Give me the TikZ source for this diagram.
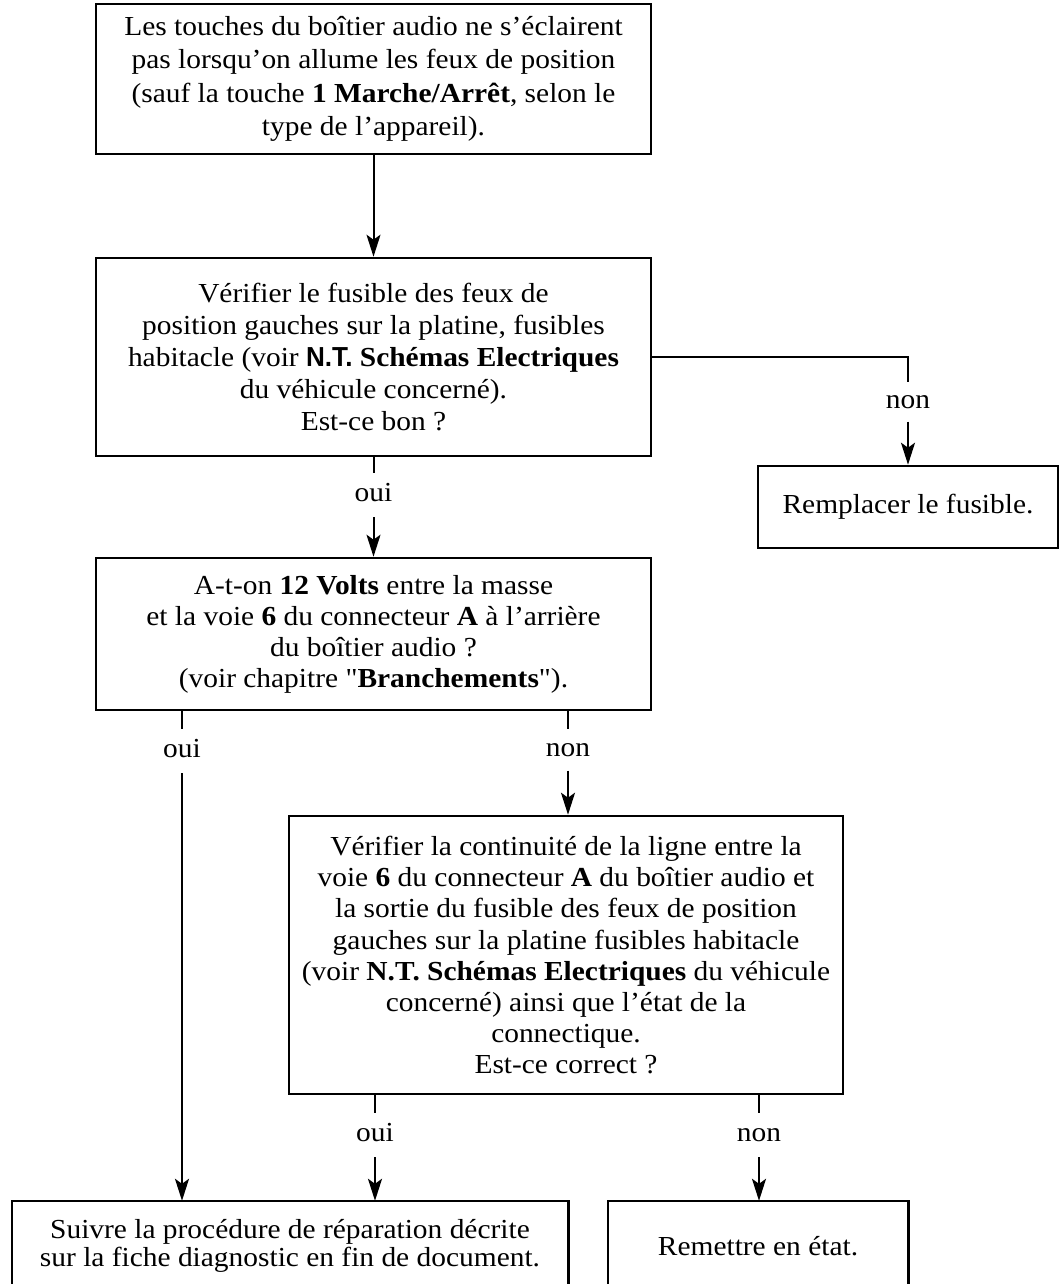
\documentclass[tikz,border=0pt]{standalone}
\usepackage{fontspec}
\setmainfont{Liberation Serif}
\setsansfont{Liberation Sans}
\newfontfamily\txtfont{Liberation Serif}[FakeStretch=1.07]
\newfontfamily\ntfont{Liberation Sans}[FakeStretch=0.95]
\usetikzlibrary{arrows.meta}
\begin{document}
\begin{tikzpicture}[x=1pt,y=-1pt,
  every node/.style={font=\txtfont\fontsize{27.5}{32}\selectfont},
  box/.style={draw,line width=2.6pt,align=center,inner sep=0pt},
  openbox/.style={align=center,inner sep=0pt},
  lbl/.style={inner sep=0pt,minimum height=44pt,text height=12pt,text depth=0pt},
  conn/.style={line width=2pt},
  arr/.style={line width=2pt,-{Stealth[length=22pt,width=14pt,inset=5pt]}}]
\useasboundingbox (0,0) rectangle (1063,1284);
\fill[white] (0,0) rectangle (1063,1284);

\node[box,minimum width=555pt,minimum height=150pt,font=\txtfont\fontsize{27.5}{33.5}\selectfont] (b1) at (373.5,79)
 {Les touches du boîtier audio ne s’éclairent\\
  pas lorsqu’on allume les feux de position\\
  (sauf la touche \textbf{1 Marche/Arrêt}, selon le\\
  type de l’appareil).};

\node[box,minimum width=555pt,minimum height=198pt] (b2) at (373.5,357)
 {Vérifier le fusible des feux de\\
  position gauches sur la platine, fusibles\\
  habitacle (voir {\ntfont\bfseries N.T.} \textbf{Schémas Electriques}\\
  du véhicule concerné).\\
  Est-ce bon ?};

\node[box,minimum width=300pt,minimum height=82pt] (rp) at (908,507)
 {Remplacer le fusible.};

\node[box,minimum width=555pt,minimum height=152pt,font=\txtfont\fontsize{27.5}{31}\selectfont] (b3) at (373.5,634)
 {A-t-on \textbf{12 Volts} entre la masse\\
  et la voie \textbf{6} du connecteur \textbf{A} à l’arrière\\
  du boîtier audio ?\\
  (voir chapitre "\textbf{Branchements}").};

\node[box,minimum width=554pt,minimum height=278pt,font=\txtfont\fontsize{27.5}{31}\selectfont] (b4) at (566,955)
 {Vérifier la continuité de la ligne entre la\\
  voie \textbf{6} du connecteur \textbf{A} du boîtier audio et\\
  la sortie du fusible des feux de position\\
  gauches sur la platine fusibles habitacle\\
  (voir \textbf{N.T. Schémas Electriques} du véhicule\\
  concerné) ainsi que l’état de la\\
  connectique.\\
  Est-ce correct ?};

\node[openbox,minimum width=556pt,minimum height=90pt,font=\txtfont\fontsize{27.5}{28}\selectfont] (b5) at (290,1246)
 {Suivre la procédure de réparation décrite\\
  sur la fiche diagnostic en fin de document.};
\draw[line width=2.6pt] ([yshift=-20pt]b5.south west) |- (b5.north east) -- ([yshift=-20pt]b5.south east);

\node[openbox,minimum width=300pt,minimum height=90pt] (b6) at (758,1246)
 {Remettre en état.};
\draw[line width=2.6pt] ([yshift=-20pt]b6.south west) |- (b6.north east) -- ([yshift=-20pt]b6.south east);

% labels
\node[lbl] (oui1) at (373.5,495) {oui};
\node[lbl,minimum height=39pt] (non1) at (908,402) {non};
\node[lbl] (oui2) at (182,751) {oui};
\node[lbl,minimum height=41pt] (non2) at (568,750) {non};
\node[lbl] (oui3) at (375,1135) {oui};
\node[lbl] (non3) at (759,1135) {non};
\coordinate (c1) at (908,357);

% connectors
\draw[arr] (b1.south) -- (b2.north);
\draw[conn] (b2.south) -- (oui1.north);
\draw[arr] (oui1.south) -- (b3.north);
\draw[conn] (b2.east) -- (c1) -- (non1.north);
\draw[arr] (non1.south) -- (rp.north);
\draw[conn] (b3.south -| oui2) -- (oui2.north);
\draw[arr] (oui2.south) -- (b5.north -| oui2);
\draw[conn] (b3.south -| non2) -- (non2.north);
\draw[arr] (non2.south) -- (b4.north -| non2);
\draw[conn] (b4.south -| oui3) -- (oui3.north);
\draw[arr] (oui3.south) -- (b5.north -| oui3);
\draw[conn] (b4.south -| non3) -- (non3.north);
\draw[arr] (non3.south) -- (b6.north -| non3);
\end{tikzpicture}
\end{document}
